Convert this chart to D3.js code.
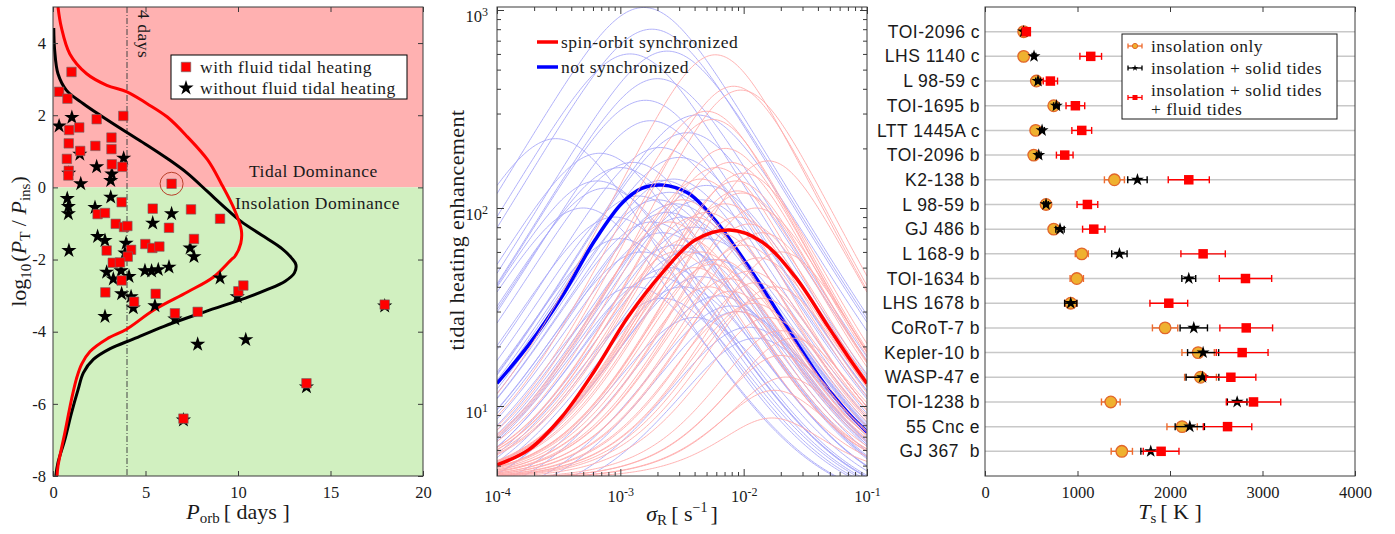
<!DOCTYPE html>
<html><head><meta charset="utf-8">
<script src="https://cdn.jsdelivr.net/npm/d3@7"></script>
<style>
body{margin:0;background:#fff;}
svg text{font-family:"Liberation Serif","Times New Roman",serif;fill:#1a1a1a;}
svg text.sans{font-family:"Liberation Sans",Arial,sans-serif;}
</style></head><body>
<svg id="c" width="1395" height="534"></svg>
<script>
// ---------------- DATA ----------------
// Left panel: log10(PT/Pins) vs orbital period
const withFluid = [[1.0,3.2],[0.33,2.65],[0.78,2.46],[2.36,1.89],[3.8,1.98],[1.42,1.66],[0.87,1.59],[3.16,1.38],[0.85,1.22],[2.29,1.15],[3.16,1.06],[1.47,1.01],[0.75,0.79],[3.18,0.64],[3.75,0.57],[0.85,0.46],[0.83,0.33],[6.41,0.1],[3.71,-0.41],[5.39,-0.59],[7.46,-0.61],[2.41,-0.74],[2.81,-0.71],[9.03,-0.87],[3.39,-1.01],[3.84,-1.1],[4.02,-1.07],[6.27,-1.12],[7.62,-1.43],[4.99,-1.57],[5.37,-1.68],[5.75,-1.64],[2.9,-1.75],[4.22,-1.73],[4.04,-1.92],[3.23,-2.09],[3.62,-2.08],[3.71,-2.58],[2.83,-2.91],[5.55,-2.95],[4.38,-3.17],[6.59,-3.49],[7.82,-3.45],[10.02,-2.88],[10.29,-2.72],[17.93,-3.25],[13.7,-5.43],[7.05,-6.41]];
const withoutFluid = [[0.33,1.7],[1.02,1.94],[1.45,0.92],[3.82,0.81],[2.36,0.57],[3.18,0.37],[0.85,0.39],[1.5,0.1],[3.12,0.19],[0.77,-0.31],[0.83,-0.53],[0.83,-0.73],[3.12,-0.27],[2.27,-0.56],[6.41,-0.73],[5.39,-0.99],[2.41,-1.36],[2.81,-1.47],[3.95,-1.55],[0.86,-1.75],[7.41,-1.68],[7.62,-1.92],[3.89,-1.82],[2.9,-2.35],[3.26,-2.54],[3.68,-2.31],[4.11,-2.47],[4.97,-2.31],[5.33,-2.32],[5.69,-2.28],[6.27,-2.21],[9.03,-2.51],[3.71,-2.95],[4.22,-3.03],[4.34,-3.34],[5.51,-3.28],[2.81,-3.58],[6.59,-3.65],[9.96,-3.03],[7.82,-4.35],[10.42,-4.22],[13.7,-5.53],[7.05,-6.45],[17.93,-3.29]];
const circledPlanet = [6.41,0.1];
const boundaryBlack = [[0.04,4.42],[0.09,3.8],[0.27,3.15],[0.73,2.69],[1.64,2.32],[2.55,2.0],[4.0,1.52],[5.09,1.17],[6.18,0.8],[7.27,0.39],[8.36,-0.12],[9.45,-0.63],[10.18,-0.95],[11.27,-1.32],[12.36,-1.69],[12.9,-1.96],[13.13,-2.14],[13.05,-2.37],[12.55,-2.6],[11.5,-2.85],[10.4,-3.07],[8.2,-3.45],[6.0,-3.85],[4.36,-4.2],[3.09,-4.47],[2.18,-4.77],[1.64,-5.14],[1.36,-5.6],[1.0,-6.25],[0.64,-6.99],[0.27,-7.63],[0.15,-8.0]];
const boundaryRed = [[0.27,5.0],[0.45,4.44],[0.91,3.7],[1.82,3.15],[2.91,2.83],[4.0,2.65],[5.09,2.32],[6.18,1.95],[7.27,1.4],[8.36,0.76],[9.09,0.11],[9.82,-0.63],[10.18,-1.18],[10.15,-1.55],[9.82,-1.92],[9.64,-2.0],[8.66,-2.49],[7.27,-2.9],[5.45,-3.4],[3.98,-3.93],[2.91,-4.2],[2.0,-4.55],[1.55,-4.9],[1.27,-5.3],[1.0,-5.88],[0.64,-6.8],[0.27,-7.72],[0.22,-8.0]];
const leftXTicks = [0,5,10,15,20];
const leftYTicks = [-8,-6,-4,-2,0,2,4];

// Middle panel: tidal heating enhancement vs sigma_R
const syncSigma = [1.0e-4,1.8e-4,3.35e-4,6.24e-4,1.16e-3,2.17e-3,4.04e-3,7.76e-3,1.40e-2,2.61e-2,4.86e-2,7.06e-2,1.0e-1];
const syncValue = [5.04,6.0,8.8,15.2,28.3,46.8,68.9,77.4,67.6,45,25.1,17.7,13.0];
const nonSyncSigma = [1.0e-4,1.8e-4,3.35e-4,6.24e-4,1.03e-3,1.49e-3,2.17e-3,3.56e-3,5.86e-3,9.66e-3,1.58e-2,2.61e-2,4.30e-2,7.06e-2,1.0e-1];
const nonSyncValue = [13.0,20.3,35.6,68.9,105.7,125.6,130.6,118.6,86.9,56.8,35.6,21.5,13.5,9.2,7.4];
// individual planets: [peak sigma, peak enhancement]
const nonSyncPeaks = [[1.55e-3,1030],[1.8e-3,800],[2.4e-3,620],[3.0e-4,224],[6.8e-4,189],[6.5e-4,137],[7.6e-4,126],[1.76e-3,276],[4.2e-3,295],[3.5e-3,240],[2.1e-3,202],[2.7e-3,140],[2.2e-3,138],[2.5e-3,120],[2.0e-3,110],[2.8e-3,105],[2.4e-3,95],[3.2e-3,90],[1.8e-3,85],[4.0e-3,80],[2.2e-3,75],[5.0e-3,70],[2.8e-3,65],[3.5e-3,60],[5.6e-3,55],[2.5e-3,50],[4.5e-3,45],[3.2e-3,40],[6.3e-3,36],[7.9e-3,32],[4.0e-3,28],[1.1e-2,25],[1.26e-2,22],[8.9e-3,30],[1.0e-3,160],[1.26e-3,170],[5.0e-3,130],[4.5e-3,110],[1.4e-3,115],[5.0e-4,100],[1.2e-3,600],[2.0e-3,450],[1.6e-3,350],[1.0e-3,70],[1.5e-3,60],[2.0e-3,45],[1.3e-3,40],[2.2e-3,35],[9.0e-4,90],[3.0e-3,180]];
const syncPeaks = [[5.9e-3,594],[8.3e-3,412],[9.5e-3,394],[5.0e-3,308],[5.6e-3,280],[1.58e-2,173],[7.8e-3,170],[6.0e-3,160],[8.7e-3,137],[8.9e-3,122],[9.7e-3,119],[7.1e-3,105],[1.1e-2,83],[5.0e-3,95],[4.0e-3,90],[6.3e-3,75],[1.32e-2,56],[7.6e-3,44],[1.26e-2,42],[4.5e-3,60],[1.0e-2,65],[5.6e-3,52],[1.12e-2,48],[7.9e-3,38],[1.58e-2,28],[1.41e-2,35],[8.9e-3,30],[2.0e-2,18],[1.7e-2,8.7],[2.0e-2,24],[1.12e-2,70],[6.3e-3,55],[3.5e-3,70],[3.2e-3,110],[4.5e-3,140],[2.5e-3,85],[2.8e-3,60],[1.78e-2,40],[2.5e-2,22],[2.2e-2,14],[1.26e-2,100],[1.0e-2,150],[7.1e-3,200],[2.0e-2,60],[5.2e-3,40],[1.41e-2,75],[4.0e-3,50],[8.9e-3,90],[1.2e-2,33],[1.78e-2,12]];
const midXMajor = [1e-4,1e-3,1e-2,1e-1];
const midYMajor = [10,100,1000];

// Right panel: surface temperatures
const planets = ['TOI-2096 c','LHS 1140 c','L 98-59 c','TOI-1695 b','LTT 1445A c','TOI-2096 b','K2-138 b','L 98-59 b','GJ 486 b','L 168-9 b','TOI-1634 b','LHS 1678 b','CoRoT-7 b','Kepler-10 b','WASP-47 e','TOI-1238 b','55 Cnc e','GJ 367  b'];
const tInsol = [418,418,555,743,548,527,1399,660,743,1046,992,927,1947,2304,2330,1360,2131,1479];
const tInsolErr = [22,22,25,30,25,25,108,25,30,70,72,66,137,175,172,101,164,115];
const tSolid = [418,530,573,772,617,581,1648,660,811,1453,2203,927,2257,2358,2351,2726,2214,1792];
const tSolidErr = [20,20,25,30,25,25,105,25,45,83,75,66,148,168,177,106,158,107];
const tFluid = [447,1143,707,977,1046,862,2203,1107,1176,2358,2816,1987,2824,2780,2658,2903,2622,1904];
const tFluidErr = [20,117,77,101,107,90,222,112,121,240,283,204,285,280,270,294,262,193];
const rightXTicks = [0,1000,2000,3000,4000];

// ---------------- DRAW ----------------
const svg = d3.select('#c');
const defs = svg.append('defs');
const FRAME = '#3a3a3a';
const TICKFS = 16.5;
const ANN = {fs:17.5, ls:0.5};
const starSym = (r) => d3.symbol().type(d3.symbolStar).size(r*r/0.8908)();
const sqSym = (s) => d3.symbol().type(d3.symbolSquare).size(s*s)();

function styleAxis(g){
  g.select('.domain').remove();
  g.selectAll('.tick line').attr('stroke',FRAME).attr('stroke-width',1);
  g.selectAll('.tick text').attr('font-size',TICKFS).attr('fill','#1a1a1a');
}

// ===== LEFT =====
const L = {x0:53, x1:423, y0:7, y1:476};
const lx = d3.scaleLinear().domain([0,20]).range([L.x0,L.x1]);
const ly = d3.scaleLinear().domain([-8,5]).range([L.y1,L.y0]);
defs.append('clipPath').attr('id','clipL').append('rect')
  .attr('x',L.x0).attr('y',L.y0).attr('width',L.x1-L.x0).attr('height',L.y1-L.y0);
const gL = svg.append('g');
gL.append('rect').attr('x',lx(0)).attr('y',ly(5)).attr('width',lx(20)-lx(0)).attr('height',ly(0)-ly(5)).attr('fill','#ffb1b1');
gL.append('rect').attr('x',lx(0)).attr('y',ly(0)).attr('width',lx(20)-lx(0)).attr('height',ly(-8)-ly(0)).attr('fill','#d1f0c0');
gL.append('line').attr('x1',lx(4)).attr('x2',lx(4)).attr('y1',ly(5)).attr('y2',ly(-8))
  .attr('stroke','#444').attr('stroke-width',1).attr('stroke-dasharray','6,2,1,2');
gL.append('text').attr('transform',`translate(${lx(4)+11},${L.y0+3}) rotate(90)`)
  .attr('font-size',ANN.fs).attr('letter-spacing',ANN.ls).text('4 days');
gL.append('text').attr('x',249).attr('y',177).attr('font-size',ANN.fs).attr('letter-spacing',ANN.ls).text('Tidal Dominance');
gL.append('text').attr('x',235).attr('y',209).attr('font-size',ANN.fs).attr('letter-spacing',ANN.ls).text('Insolation Dominance');
const lline = d3.line().x(d=>lx(d[0])).y(d=>ly(d[1])).curve(d3.curveCatmullRom);
const gLc = gL.append('g').attr('clip-path','url(#clipL)');
gLc.append('path').attr('d',lline(boundaryBlack)).attr('fill','none').attr('stroke','#000').attr('stroke-width',3);
gLc.append('path').attr('d',lline(boundaryRed)).attr('fill','none').attr('stroke','#ff0000').attr('stroke-width',3);
gLc.selectAll('path.star').data(withoutFluid).join('path').attr('class','star')
  .attr('d',starSym(8)).attr('transform',d=>`translate(${lx(d[0])},${ly(d[1])})`).attr('fill','#000');
gLc.selectAll('path.sq').data(withFluid).join('path').attr('class','sq')
  .attr('d',sqSym(9.5)).attr('transform',d=>`translate(${lx(d[0])},${ly(d[1])})`)
  .attr('fill','#ff0000').attr('stroke','#6a6a6a').attr('stroke-width',0.6);
gL.append('circle').attr('cx',lx(circledPlanet[0])).attr('cy',ly(circledPlanet[1])).attr('r',11.5)
  .attr('fill','none').attr('stroke','#b8402a').attr('stroke-width',1);
// legend
const lg = gL.append('g');
lg.append('rect').attr('x',171).attr('y',55).attr('width',236).attr('height',44).attr('fill','#fff').attr('stroke','#000').attr('stroke-width',1);
lg.append('path').attr('d',sqSym(9.5)).attr('transform','translate(186,67)').attr('fill','#ff0000').attr('stroke','#6a6a6a').attr('stroke-width',0.6);
lg.append('path').attr('d',starSym(8)).attr('transform','translate(186,88)').attr('fill','#000');
lg.append('text').attr('x',200).attr('y',73).attr('font-size',ANN.fs).attr('letter-spacing',ANN.ls).text('with fluid tidal heating');
lg.append('text').attr('x',200).attr('y',94).attr('font-size',ANN.fs).attr('letter-spacing',ANN.ls).text('without fluid tidal heating');
// axes
styleAxis(gL.append('g').attr('transform',`translate(0,${L.y1})`).call(d3.axisBottom(lx).tickValues(leftXTicks).tickSize(-5).tickPadding(10)));
styleAxis(gL.append('g').attr('transform',`translate(0,${L.y0})`).call(d3.axisTop(lx).tickValues(leftXTicks).tickSize(-5).tickFormat('')));
styleAxis(gL.append('g').attr('transform',`translate(${L.x0},0)`).call(d3.axisLeft(ly).tickValues(leftYTicks).tickSize(-5).tickPadding(7).tickFormat(d=>String(d))));
styleAxis(gL.append('g').attr('transform',`translate(${L.x1},0)`).call(d3.axisRight(ly).tickValues(leftYTicks).tickSize(-5).tickFormat('')));
gL.append('rect').attr('x',L.x0).attr('y',L.y0).attr('width',L.x1-L.x0).attr('height',L.y1-L.y0).attr('fill','none').attr('stroke',FRAME).attr('stroke-width',1);
// labels
const xl = gL.append('text').attr('x',(L.x0+L.x1)/2).attr('y',519).attr('text-anchor','middle').attr('font-size',22);
xl.append('tspan').attr('font-style','italic').text('P');
xl.append('tspan').attr('font-size',15).attr('dy',4).text('orb');
xl.append('tspan').attr('dy',-4).attr('dx',4).text('[ days ]');
const yl = gL.append('text').attr('transform',`translate(26,${(L.y0+L.y1)/2}) rotate(-90)`).attr('text-anchor','middle').attr('font-size',22);
yl.append('tspan').text('log');
yl.append('tspan').attr('font-size',15).attr('dy',5).text('10');
yl.append('tspan').attr('dy',-5).attr('dx',2).text('(');
yl.append('tspan').attr('font-style','italic').text('P');
yl.append('tspan').attr('font-size',15).attr('dy',4).text('T');
yl.append('tspan').attr('dy',-4).text(' / ');
yl.append('tspan').attr('font-style','italic').text('P');
yl.append('tspan').attr('font-size',15).attr('dy',4).text('ins');
yl.append('tspan').attr('dy',-4).text(')');

// ===== MIDDLE =====
const M = {x0:497, x1:867, y0:7, y1:476};
const mx = d3.scaleLog().domain([1e-4,1e-1]).range([M.x0,M.x1]);
const my = d3.scaleLog().domain([Math.pow(10,0.6465),Math.pow(10,3.0152)]).range([M.y1,M.y0]);
defs.append('clipPath').attr('id','clipM').append('rect')
  .attr('x',M.x0).attr('y',M.y0).attr('width',M.x1-M.x0).attr('height',M.y1-M.y0);
const gM = svg.append('g');
const gMc = gM.append('g').attr('clip-path','url(#clipM)');
const sGrid = d3.range(0,241).map(i=>Math.pow(10,-4+3*i/240));
// resonance response shape for each planet's curve (peak position & height)
function response(s, ps, pv, base, n){ const x=Math.pow(s/ps,n); return base+(pv-base)*2*x/(1+x*x); }
const mline = d3.line().x(d=>mx(d[0])).y(d=>my(d[1]));
const mcurve = d3.line().x(d=>mx(d[0])).y(d=>my(d[1])).curve(d3.curveCatmullRom);
gMc.selectAll('path.tb').data(nonSyncPeaks).join('path').attr('class','tb')
  .attr('d',p=>mline(sGrid.map(s=>[s,response(s,p[0],p[1],3.0,1.05)])))
  .attr('fill','none').attr('stroke','#a8a8f8').attr('stroke-width',0.9);
gMc.append('path').attr('d',mcurve(nonSyncSigma.map((s,i)=>[s,nonSyncValue[i]])))
  .attr('fill','none').attr('stroke','#0000ff').attr('stroke-width',3.5);
gMc.selectAll('path.tr').data(syncPeaks).join('path').attr('class','tr')
  .attr('d',p=>mline(sGrid.map(s=>[s,response(s,p[0],p[1],4.3,1.25)])))
  .attr('fill','none').attr('stroke','#ffaaaa').attr('stroke-width',0.9);
gMc.append('path').attr('d',mcurve(syncSigma.map((s,i)=>[s,syncValue[i]])))
  .attr('fill','none').attr('stroke','#ff0000').attr('stroke-width',3.5);
// legend
gM.append('line').attr('x1',537).attr('x2',558).attr('y1',42).attr('y2',42).attr('stroke','#ff0000').attr('stroke-width',3.5);
gM.append('line').attr('x1',537).attr('x2',558).attr('y1',67).attr('y2',67).attr('stroke','#0000ff').attr('stroke-width',3.5);
gM.append('text').attr('x',561).attr('y',48).attr('font-size',ANN.fs).attr('letter-spacing',ANN.ls).text('spin-orbit synchronized');
gM.append('text').attr('x',561).attr('y',73).attr('font-size',ANN.fs).attr('letter-spacing',ANN.ls).text('not synchronized');
// axes
const midXMinor = mx.ticks().filter(v=>!midXMajor.some(m=>Math.abs(m-v)/m<1e-6));
const midYMinor = my.ticks().filter(v=>!midYMajor.some(m=>Math.abs(m-v)/m<1e-6));
function supLabels(g){
  g.selectAll('.tick text').each(function(d){
    const t=d3.select(this); t.text(null);
    t.append('tspan').text('10');
    t.append('tspan').attr('dy','-0.5em').attr('font-size',12).text(String(Math.round(Math.log10(d))));
  });
}
const mb = gM.append('g').attr('transform',`translate(0,${M.y1})`).call(d3.axisBottom(mx).tickValues(midXMajor).tickSize(-7).tickPadding(14));
styleAxis(mb); supLabels(mb);
styleAxis(gM.append('g').attr('transform',`translate(0,${M.y1})`).call(d3.axisBottom(mx).tickValues(midXMinor).tickSize(-4).tickFormat('')));
styleAxis(gM.append('g').attr('transform',`translate(0,${M.y0})`).call(d3.axisTop(mx).tickValues(midXMajor).tickSize(-7).tickFormat('')));
styleAxis(gM.append('g').attr('transform',`translate(0,${M.y0})`).call(d3.axisTop(mx).tickValues(midXMinor).tickSize(-4).tickFormat('')));
const ml = gM.append('g').attr('transform',`translate(${M.x0},0)`).call(d3.axisLeft(my).tickValues(midYMajor).tickSize(-7).tickPadding(9));
styleAxis(ml); supLabels(ml); ml.selectAll('.tick text').attr('dy','0.75em').attr('transform','translate(0,-1)');
styleAxis(gM.append('g').attr('transform',`translate(${M.x0},0)`).call(d3.axisLeft(my).tickValues(midYMinor).tickSize(-4).tickFormat('')));
styleAxis(gM.append('g').attr('transform',`translate(${M.x1},0)`).call(d3.axisRight(my).tickValues(midYMajor).tickSize(-7).tickFormat('')));
styleAxis(gM.append('g').attr('transform',`translate(${M.x1},0)`).call(d3.axisRight(my).tickValues(midYMinor).tickSize(-4).tickFormat('')));
gM.append('rect').attr('x',M.x0).attr('y',M.y0).attr('width',M.x1-M.x0).attr('height',M.y1-M.y0).attr('fill','none').attr('stroke',FRAME).attr('stroke-width',1);
const mxl = gM.append('text').attr('x',(M.x0+M.x1)/2).attr('y',521).attr('text-anchor','middle').attr('font-size',22);
mxl.append('tspan').attr('font-style','italic').text('σ');
mxl.append('tspan').attr('font-size',15).attr('dy',4).text('R');
mxl.append('tspan').attr('dy',-4).attr('dx',4).text('[ s');
mxl.append('tspan').attr('font-size',14).attr('dy',-9).text('−1');
mxl.append('tspan').attr('dy',9).attr('dx',3).text(']');
gM.append('text').attr('transform',`translate(464,230) rotate(-90)`).attr('text-anchor','middle')
  .attr('font-size',22).attr('letter-spacing',0.4).text('tidal heating enhancement');

// ===== RIGHT =====
const R = {x0:985, x1:1355, y0:7, y1:476};
const rx = d3.scaleLinear().domain([0,4000]).range([R.x0,R.x1]);
const ry = d3.scalePoint().domain(planets).range([R.y0,R.y1]).padding(1);
const gR = svg.append('g');
gR.selectAll('line.grid').data(planets).join('line').attr('class','grid')
  .attr('x1',R.x0).attr('x2',R.x1).attr('y1',d=>ry(d)).attr('y2',d=>ry(d))
  .attr('stroke','#c8c8c8').attr('stroke-width',1.5);
const ORANGE_E='#ee6a2d';
function errbars(vals, errs, color){
  const g = gR.append('g').attr('stroke',color).attr('stroke-width',1.4);
  planets.forEach((p,i)=>{
    const y=ry(p), a=rx(vals[i]-errs[i]), b=rx(vals[i]+errs[i]);
    g.append('line').attr('x1',a).attr('x2',b).attr('y1',y).attr('y2',y);
    g.append('line').attr('x1',a).attr('x2',a).attr('y1',y-3.5).attr('y2',y+3.5);
    g.append('line').attr('x1',b).attr('x2',b).attr('y1',y-3.5).attr('y2',y+3.5);
  });
}
errbars(tInsol,tInsolErr,ORANGE_E);
gR.selectAll('circle.ins').data(planets).join('circle').attr('class','ins')
  .attr('cx',(p,i)=>rx(tInsol[i])).attr('cy',p=>ry(p)).attr('r',5.8)
  .attr('fill','#efb12f').attr('stroke','#e2662a').attr('stroke-width',1.3);
errbars(tSolid,tSolidErr,'#000');
gR.selectAll('path.sol').data(planets).join('path').attr('class','sol')
  .attr('d',starSym(6.8)).attr('transform',(p,i)=>`translate(${rx(tSolid[i])},${ry(p)})`).attr('fill','#000');
errbars(tFluid,tFluidErr,'#ff0000');
gR.selectAll('path.flu').data(planets).join('path').attr('class','flu')
  .attr('d',sqSym(9.5)).attr('transform',(p,i)=>`translate(${rx(tFluid[i])},${ry(p)})`).attr('fill','#ff0000');
// legend
const rl = gR.append('g');
rl.append('rect').attr('x',1122).attr('y',34).attr('width',215).attr('height',85).attr('fill','#fff').attr('stroke','#1a1a1a').attr('stroke-width',1);
function legIcon(y,color,kind){
  const g=rl.append('g').attr('stroke',color).attr('stroke-width',1.3);
  g.append('line').attr('x1',1128).attr('x2',1142).attr('y1',y).attr('y2',y);
  g.append('line').attr('x1',1128).attr('x2',1128).attr('y1',y-2.5).attr('y2',y+2.5);
  g.append('line').attr('x1',1142).attr('x2',1142).attr('y1',y-2.5).attr('y2',y+2.5);
  if(kind==='c') rl.append('circle').attr('cx',1135).attr('cy',y).attr('r',2.6).attr('fill','#efb12f').attr('stroke','#e2662a').attr('stroke-width',1);
  if(kind==='s') rl.append('path').attr('d',starSym(3.5)).attr('transform',`translate(1135,${y})`).attr('fill','#000');
  if(kind==='q') rl.append('path').attr('d',sqSym(5)).attr('transform',`translate(1135,${y})`).attr('fill','#ff0000');
}
legIcon(46,ORANGE_E,'c'); legIcon(68,'#000','s'); legIcon(97.5,'#ff0000','q');
[['insolation only',52],['insolation + solid tides',74],['insolation + solid tides',96],['+ fluid tides',115]].forEach(([t,y])=>{
  rl.append('text').attr('x',1151).attr('y',y).attr('font-size',ANN.fs).attr('letter-spacing',ANN.ls).text(t);
});
// axes
const rb = gR.append('g').attr('transform',`translate(0,${R.y1})`).call(d3.axisBottom(rx).tickValues(rightXTicks).tickSize(-5).tickPadding(10).tickFormat(d3.format('d')));
styleAxis(rb);
styleAxis(gR.append('g').attr('transform',`translate(0,${R.y0})`).call(d3.axisTop(rx).tickValues(rightXTicks).tickSize(-5).tickFormat('')));
const rlab = gR.append('g').attr('transform',`translate(${R.x0},0)`).call(d3.axisLeft(ry).tickSize(0).tickPadding(5));
rlab.select('.domain').remove();
rlab.selectAll('.tick text').attr('class','sans').attr('font-size',17.5)
  .attr('letter-spacing',0.5).attr('fill','#1a1a1a').style('white-space','pre');
gR.append('rect').attr('x',R.x0).attr('y',R.y0).attr('width',R.x1-R.x0).attr('height',R.y1-R.y0).attr('fill','none').attr('stroke',FRAME).attr('stroke-width',1);
const rxl = gR.append('text').attr('x',(R.x0+R.x1)/2).attr('y',519).attr('text-anchor','middle').attr('font-size',22);
rxl.append('tspan').attr('font-style','italic').text('T');
rxl.append('tspan').attr('font-size',15).attr('dy',4).text('s');
rxl.append('tspan').attr('dy',-4).attr('dx',4).text('[ K ]');
</script></body></html>
